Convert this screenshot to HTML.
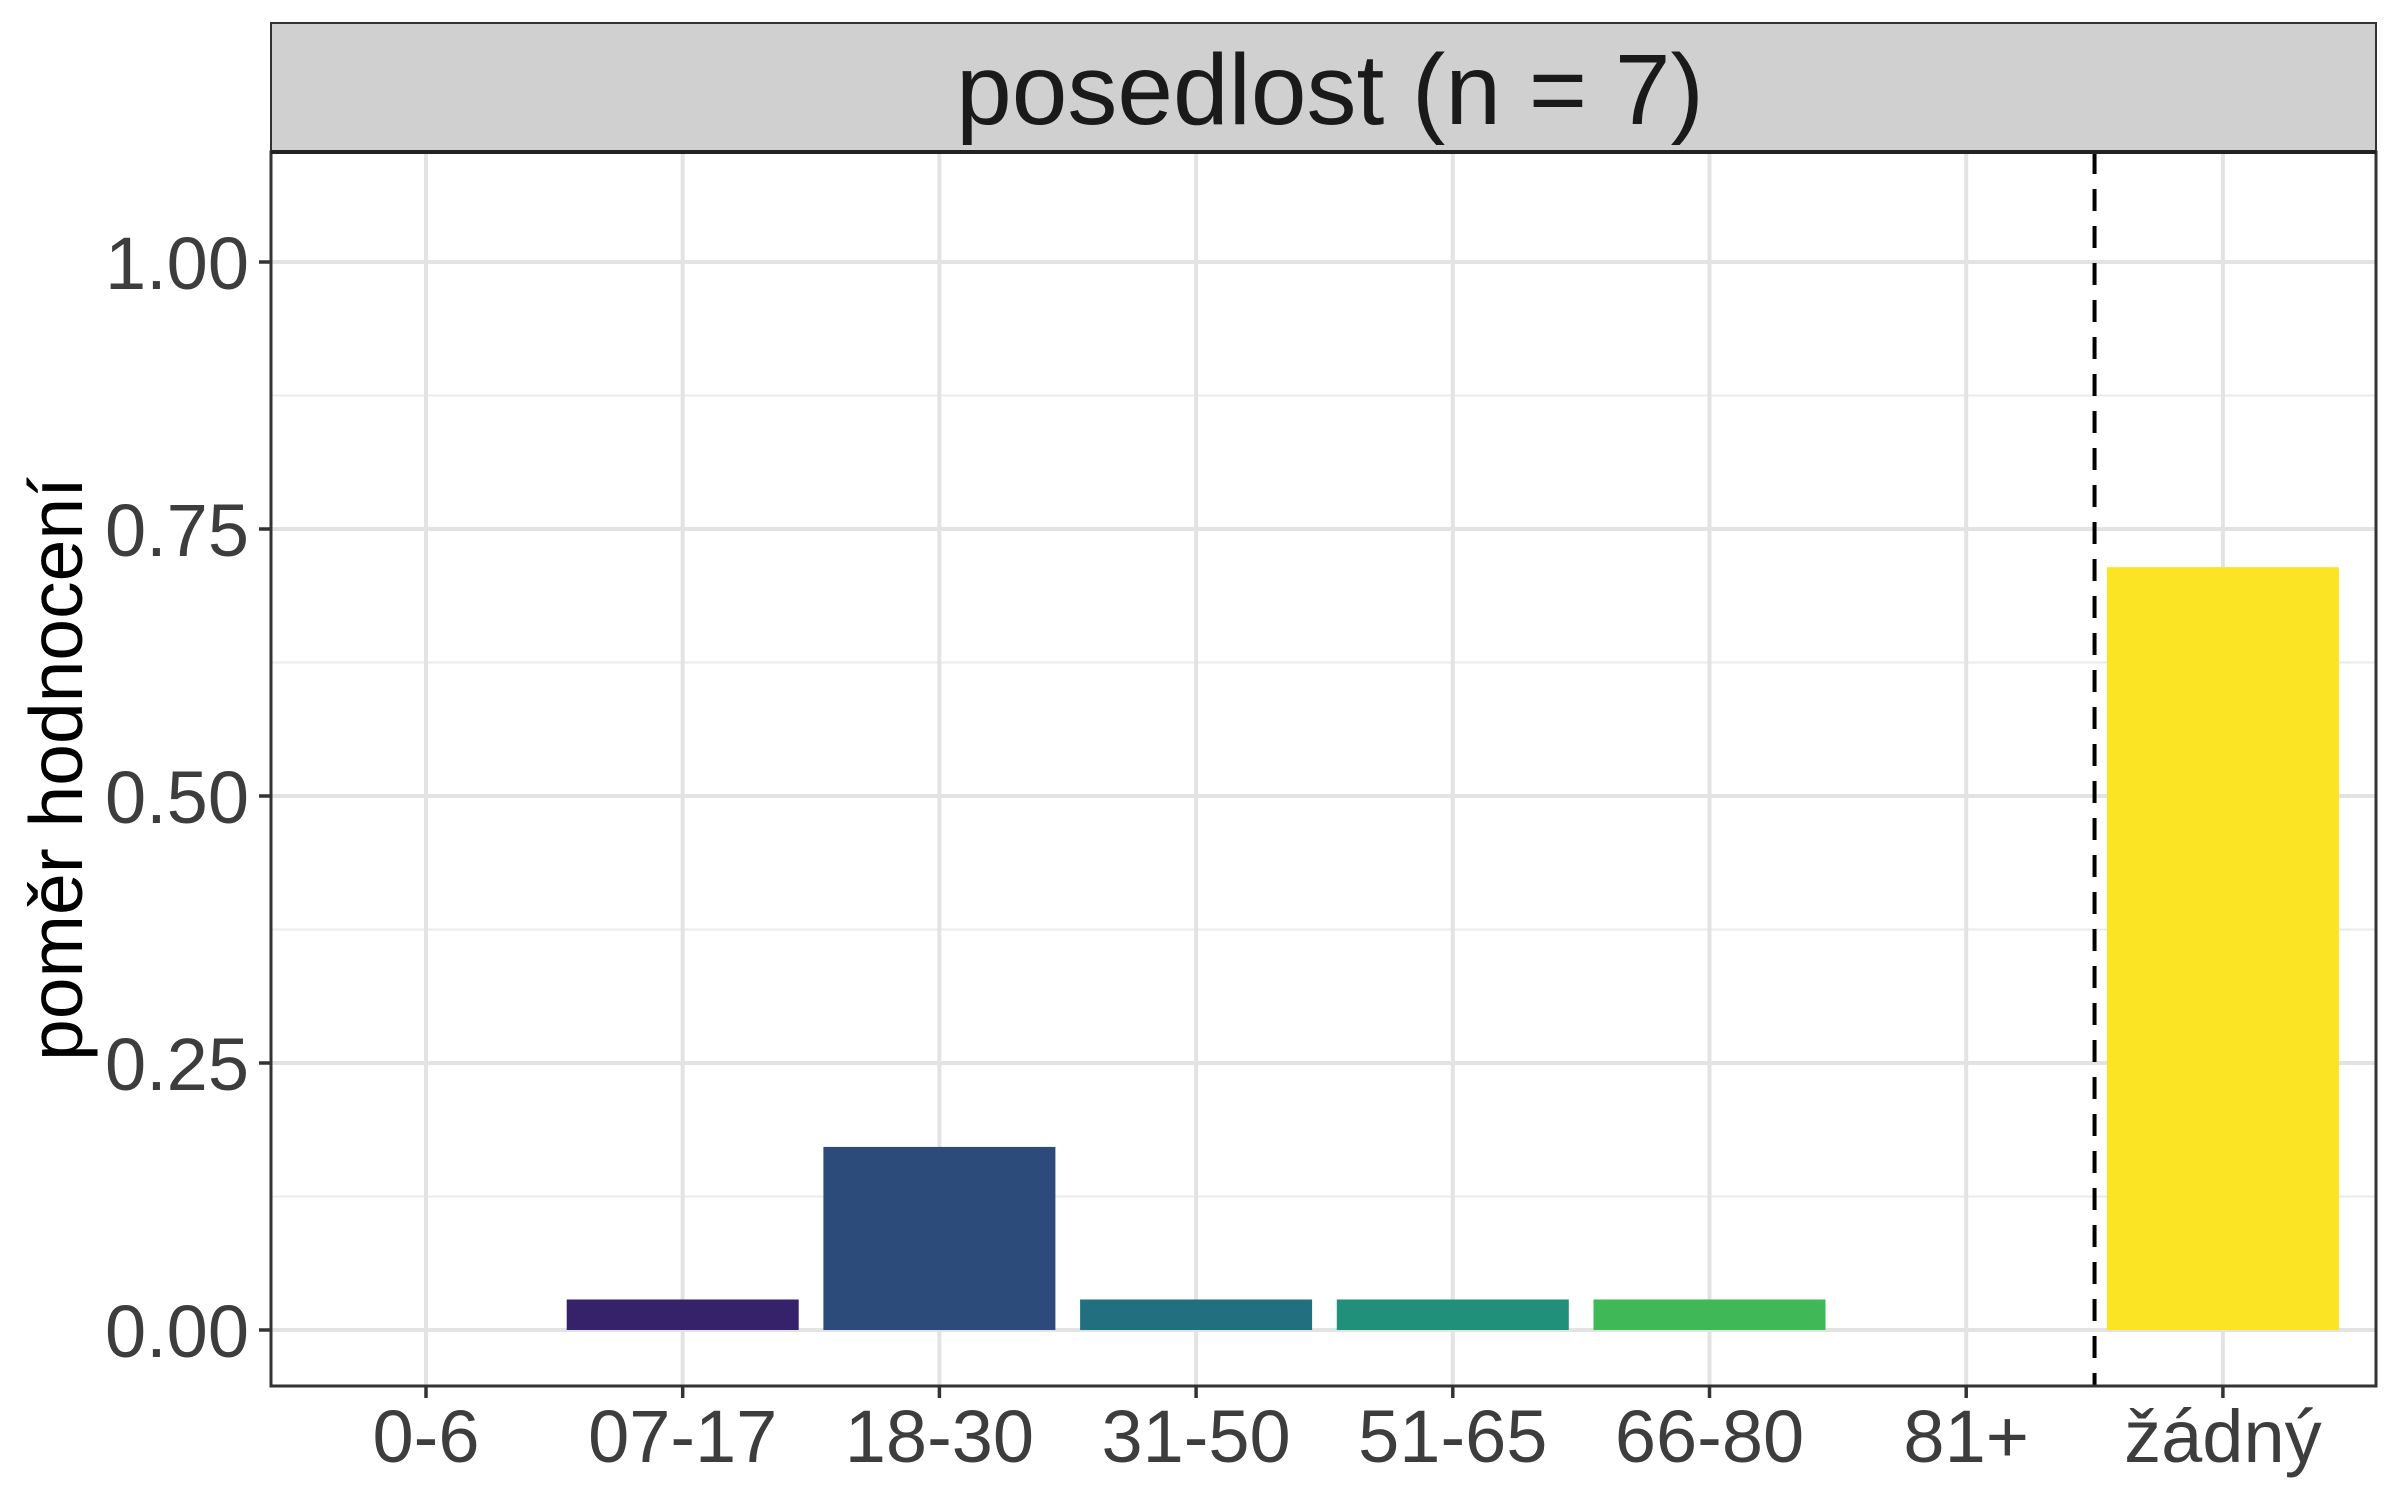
<!DOCTYPE html>
<html><head><meta charset="utf-8"><style>
html,body{margin:0;padding:0;background:#fff;}
svg{display:block;font-family:"Liberation Sans",Arial,sans-serif;}
</style></head><body>
<svg id="chart" width="2400" height="1500" viewBox="0 0 2400 1500" xmlns="http://www.w3.org/2000/svg">
<rect x="0" y="0" width="2400" height="1500" fill="#fff"/>
<g id="grid"></g>
<g id="bars"></g>
<g id="axes"></g>
<rect x="271" y="23" width="2105" height="129" fill="#d0d0d0" stroke="#333" stroke-width="2"/>
<line x1="271" y1="152" x2="2376" y2="152" stroke="#222" stroke-width="4"/>
<text x="1330" y="124" text-anchor="middle" font-size="100" fill="#1a1a1a">posedlost (n = 7)</text>
<text transform="translate(82,769) rotate(-90)" text-anchor="middle" font-size="75" fill="#000">poměr hodnocení</text>
</svg>
<script>
const categories = ["0-6","07-17","18-30","31-50","51-65","66-80","81+","žádný"];
const values = [0, 1/35, 6/35, 1/35, 1/35, 1/35, 0, 25/35];
const colors = ["#440154","#35226a","#2c4a7a","#226f80","#21907a","#3fb958","#9fda3a","#fbe423"];
const yTicks = [0, 0.25, 0.5, 0.75, 1.0];
const yTickLabels = ["0.00","0.25","0.50","0.75","1.00"];
const separatorAfter = 6;

const NS = "http://www.w3.org/2000/svg";
const L = 271, R = 2376, T = 152, B = 1386;
const x0 = 426, step = 256.7, barW = 232;
const y0 = 1330, yUnit = 1068;
function xScale(i){ return x0 + i*step; }
function yScale(v){ return y0 - v*yUnit; }
function mk(tag, attrs, parent){
  const el = document.createElementNS(NS, tag);
  for (const k in attrs) el.setAttribute(k, attrs[k]);
  parent.appendChild(el);
  return el;
}
const grid = document.getElementById('grid');
const bars = document.getElementById('bars');
const axes = document.getElementById('axes');
mk('rect', {x:L, y:T, width:R-L, height:B-T, fill:'#fff'}, grid);
for (let i=0;i<yTicks.length-1;i++){
  const v = (yTicks[i]+yTicks[i+1])/2;
  const ln = mk('line', {x1:L, x2:R, y1:yScale(v), y2:yScale(v), stroke:'#ebebeb', 'stroke-width':2}, grid);
  
  
}
yTicks.forEach((v,i)=>{
  const y = yScale(v);
  const ln = mk('line', {x1:L, x2:R, y1:y, y2:y, stroke:'#e3e3e3', 'stroke-width':4}, grid);
  
  
  const tk = mk('line', {x1:L-12, x2:L, y1:y, y2:y, stroke:'#333', 'stroke-width':3.5}, axes);
  
  
  const t = mk('text', {x:L-22, y:y+27, 'text-anchor':'end', 'font-size':'74', fill:'#3d3d3d'}, axes);
  t.textContent = yTickLabels[i];
  
  
});
categories.forEach((c,i)=>{
  const x = xScale(i);
  const ln = mk('line', {x1:x, x2:x, y1:T, y2:B, stroke:'#e3e3e3', 'stroke-width':4}, grid);
  
  
  if (values[i] > 0){
    const r = mk('rect', {x:x-barW/2, y:yScale(values[i]), width:barW, height:yScale(0)-yScale(values[i]), fill:colors[i]}, bars);
    
    
  }
  const tk = mk('line', {x1:x, x2:x, y1:B, y2:B+12, stroke:'#333', 'stroke-width':3.5}, axes);
  
  
  const t = mk('text', {x:x, y:1462, 'text-anchor':'middle', 'font-size':'74', fill:'#3d3d3d'}, axes);
  t.textContent = c;
  
  
});
const sx = xScale(separatorAfter) + step/2;
const dl = mk('line', {x1:sx, x2:sx, y1:T, y2:B, stroke:'#000', 'stroke-width':4, 'stroke-dasharray':'22 15'}, axes);


const frame = mk('rect', {x:L, y:T, width:R-L, height:B-T, fill:'none', stroke:'#333', 'stroke-width':3}, axes);


</script>
</body></html>
